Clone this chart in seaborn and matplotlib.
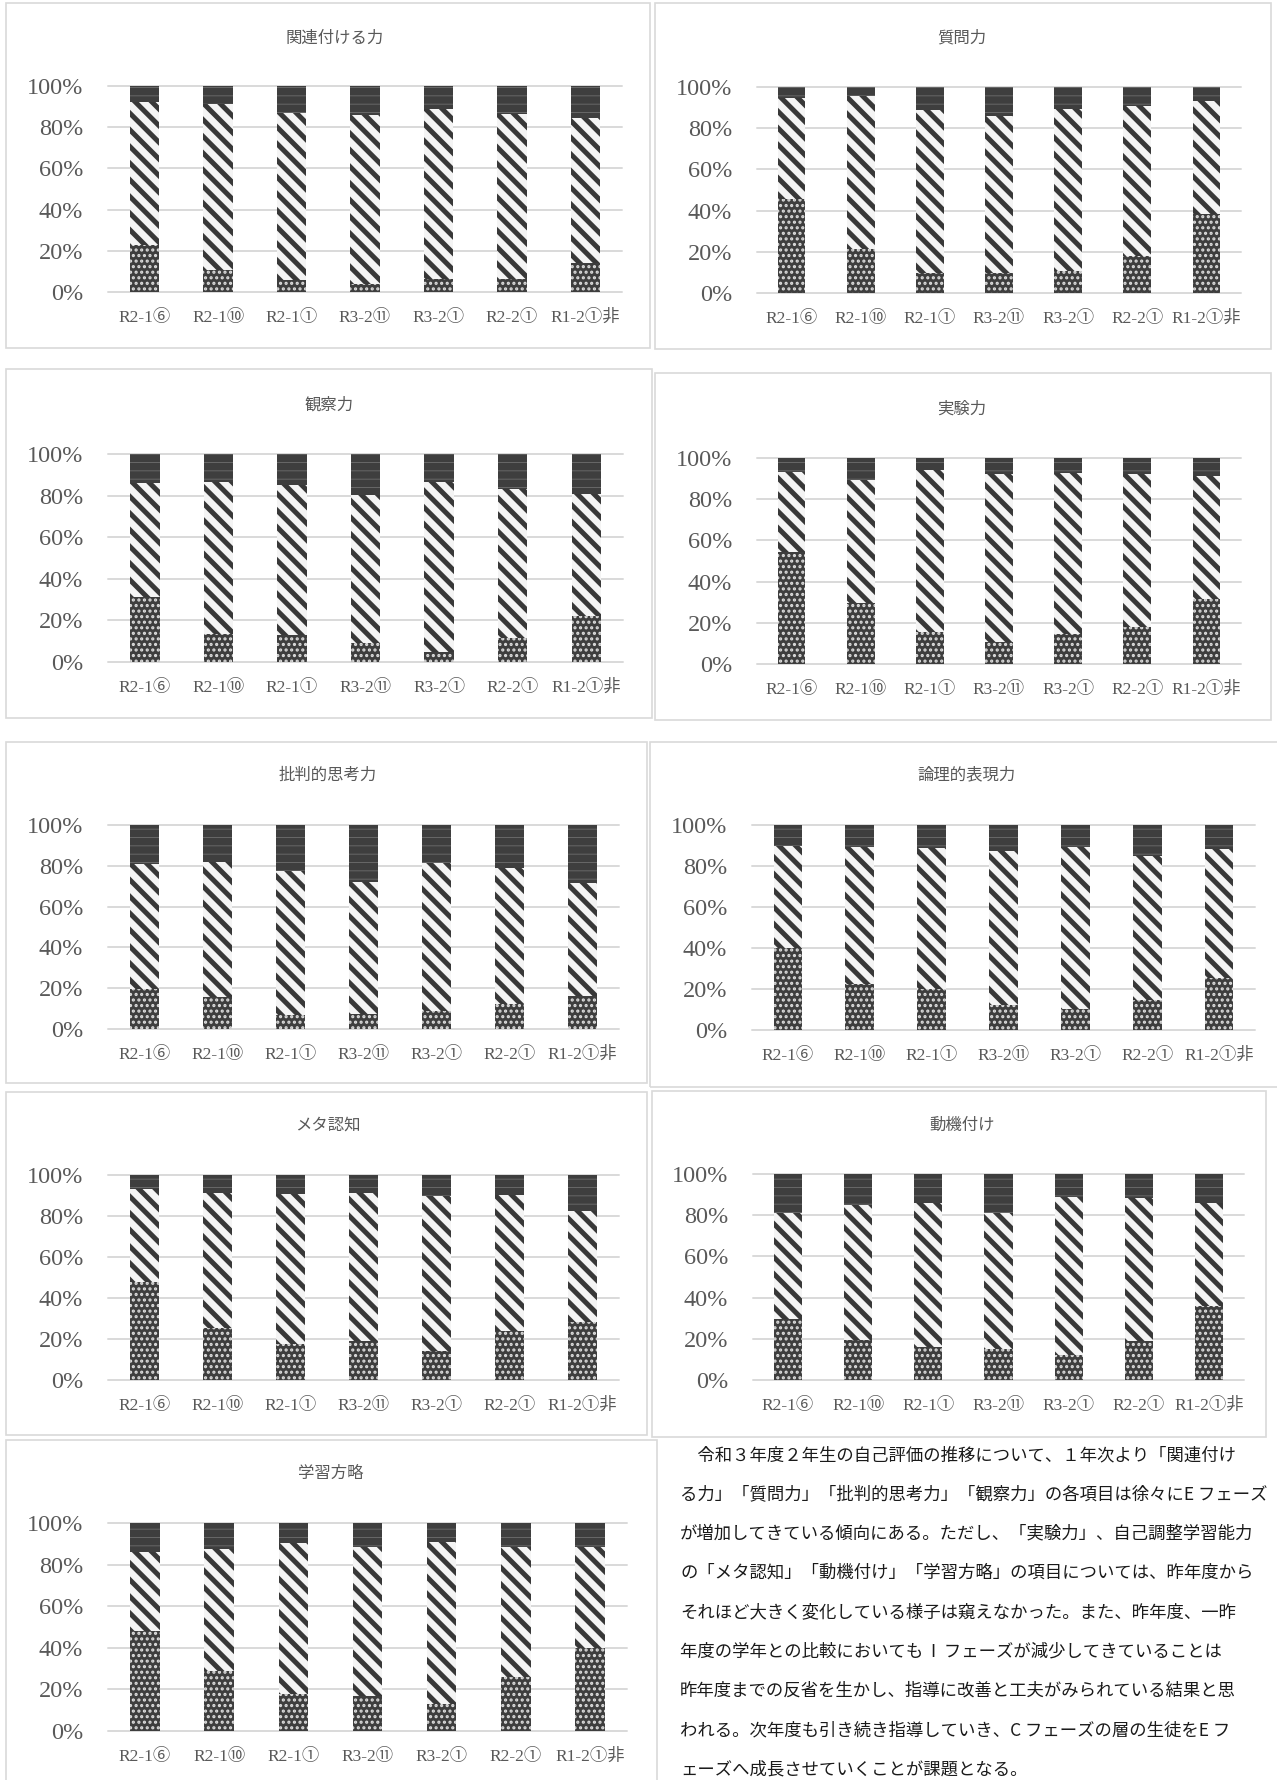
import numpy as np
import matplotlib
matplotlib.use("Agg")
import matplotlib.pyplot as plt
import seaborn as sns
from matplotlib.patches import Rectangle

# ---------------- data (percent of students, bottom / middle / top segment) -------------
categories = ["R2-1⑥", "R2-1⑩", "R2-1①", "R3-2⑪", "R3-2①", "R2-2①", "R1-2①非"]
yticks = [0, 20, 40, 60, 80, 100]

kanren_low = [23.0, 10.6, 6.0, 4.0, 6.5, 6.5, 14.3]
kanren_mid = [69.0, 80.8, 80.8, 81.7, 82.1, 79.8, 70.1]
kanren_top = [8.0, 8.6, 13.2, 14.3, 11.4, 13.7, 15.6]

shitsumon_low = [45.6, 21.6, 9.9, 9.9, 10.5, 18.2, 38.3]
shitsumon_mid = [49.0, 74.2, 78.7, 76.1, 78.9, 72.4, 54.7]
shitsumon_top = [5.4, 4.2, 11.4, 14.0, 10.6, 9.4, 7.0]

kansatsu_low = [31.4, 13.6, 13.1, 9.1, 5.0, 11.4, 22.0]
kansatsu_mid = [54.6, 72.9, 71.8, 71.3, 81.4, 71.8, 59.0]
kansatsu_top = [14.0, 13.5, 15.1, 19.6, 13.6, 16.8, 19.0]

jikken_low = [54.6, 29.5, 15.6, 10.7, 14.4, 18.2, 31.4]
jikken_mid = [38.6, 59.6, 78.4, 81.5, 78.1, 74.2, 59.7]
jikken_top = [6.8, 10.9, 6.0, 7.8, 7.5, 7.6, 8.9]

hihan_low = [19.6, 15.7, 6.7, 7.2, 8.8, 12.3, 16.4]
hihan_mid = [61.4, 66.1, 70.9, 64.8, 72.5, 66.6, 55.0]
hihan_top = [19.0, 18.2, 22.4, 28.0, 18.7, 21.1, 28.6]

ronri_low = [40.1, 22.6, 20.0, 12.0, 10.4, 14.4, 25.2]
ronri_mid = [49.7, 66.8, 69.0, 75.5, 78.7, 70.3, 62.9]
ronri_top = [10.2, 10.6, 11.0, 12.5, 10.9, 15.3, 11.9]

meta_low = [47.9, 25.6, 17.4, 19.0, 14.3, 23.9, 28.1]
meta_mid = [45.4, 65.6, 73.3, 72.2, 75.3, 66.4, 54.4]
meta_top = [6.7, 8.8, 9.3, 8.8, 10.4, 9.7, 17.5]

doki_low = [29.8, 19.6, 15.9, 15.2, 12.0, 19.1, 35.7]
doki_mid = [51.2, 65.5, 70.0, 66.0, 76.9, 69.2, 50.2]
doki_top = [19.0, 14.9, 14.1, 18.8, 11.1, 11.7, 14.1]

gakushu_low = [47.9, 28.7, 17.9, 16.7, 12.8, 26.0, 39.9]
gakushu_mid = [38.1, 59.0, 72.6, 71.8, 78.1, 62.5, 48.6]
gakushu_top = [14.0, 12.3, 9.5, 11.5, 9.1, 11.5, 11.5]

titles = ["関連付ける力", "質問力", "観察力", "実験力", "批判的思考力",
          "論理的表現力", "メタ認知", "動機付け", "学習方略"]

paragraph = [
    "　令和３年度２年生の自己評価の推移について、１年次より「関連付け",
    "る力」「質問力」「批判的思考力」「観察力」の各項目は徐々にE フェーズ",
    "が増加してきている傾向にある。ただし、「実験力」、自己調整学習能力",
    "の「メタ認知」「動機付け」「学習方略」の項目については、昨年度から",
    "それほど大きく変化している様子は窺えなかった。また、昨年度、一昨",
    "年度の学年との比較においても  I  フェーズが減少してきていることは",
    "昨年度までの反省を生かし、指導に改善と工夫がみられている結果と思",
    "われる。次年度も引き続き指導していき、C フェーズの層の生徒をE フ",
    "ェーズへ成長させていくことが課題となる。",
]

# ---------------- layout (pixel positions) ----------------
W, H = 1277, 1780
# axes: left, right, top(100%), bottom(0%) ; box: left, top, right, bottom ; title x, y
layout = [
    ((108, 622, 86, 292), (6, 3, 650, 348), (335, 38)),
    ((757, 1241, 87, 293), (655, 3, 1271, 349), (962, 38)),
    ((108, 623, 454, 662), (6, 369, 652, 718), (329, 405)),
    ((757, 1241, 458, 664), (655, 373, 1271, 720), (962, 409)),
    ((108, 619, 825, 1029), (6, 742, 647, 1083), (328, 775)),
    ((752, 1255, 825, 1030), (650, 742, 1290, 1087), (966, 775)),
    ((108, 619, 1175, 1380), (6, 1092, 647, 1435), (328, 1125)),
    ((753, 1244, 1174, 1380), (652, 1091, 1266, 1437), (962, 1125)),
    ((108, 627, 1523, 1731), (6, 1440, 657, 1800), (331, 1473)),
]

panel_data = [
    (kanren_low, kanren_mid, kanren_top),
    (shitsumon_low, shitsumon_mid, shitsumon_top),
    (kansatsu_low, kansatsu_mid, kansatsu_top),
    (jikken_low, jikken_mid, jikken_top),
    (hihan_low, hihan_mid, hihan_top),
    (ronri_low, ronri_mid, ronri_top),
    (meta_low, meta_mid, meta_top),
    (doki_low, doki_mid, doki_top),
    (gakushu_low, gakushu_mid, gakushu_top),
]

sns.set_style("white")
plt.rcParams['font.family'] = ['Liberation Serif', 'Noto Sans CJK JP']
plt.rcParams['hatch.linewidth'] = 1.0

fig = plt.figure(figsize=(W / 100, H / 100), dpi=100)
fig.patch.set_facecolor("white")


def fx(px):
    return px / W


def fy(py):
    return 1 - py / H


def style_bars(container, hatch, hatch_color, hlw):
    for p in container.patches:
        p.set_hatch(hatch)
        p.set_edgecolor(hatch_color)
        p.set_linewidth(0)
        if hasattr(p, "set_hatch_linewidth"):
            p.set_hatch_linewidth(hlw)


GRID = "#d9d9d9"
TXT = "#595959"

for title, (low, mid, top), (ax_pos, box, tpos) in zip(titles, panel_data, layout):
    l, r, t, b = ax_pos
    ax = fig.add_axes([fx(l), fy(b), (r - l) / W, (b - t) / H])
    low = np.asarray(low)
    mid = np.asarray(mid)
    top = np.asarray(top)
    total = low + mid + top
    lowmid = low + mid

    sns.barplot(x=categories, y=total, order=categories, color="#3e3e3e",
                saturation=1, width=0.4, errorbar=None, ax=ax, zorder=2)
    style_bars(ax.containers[-1], "--", "#6e6e6e", 0.6)
    sns.barplot(x=categories, y=lowmid, order=categories, color="#f4f4f4",
                saturation=1, width=0.4, errorbar=None, ax=ax, zorder=3)
    style_bars(ax.containers[-1], "\\\\", "#383838", 3.6)
    sns.barplot(x=categories, y=low, order=categories, color="#3e3e3e",
                saturation=1, width=0.4, errorbar=None, ax=ax, zorder=4)
    style_bars(ax.containers[-1], "...", "#dcdcdc", 1.5)

    ax.set_xlim(-0.5, len(categories) - 0.5)
    ax.set_ylim(0, 100)
    for v in yticks:
        ax.axhline(v, color=GRID, lw=1.4, zorder=1, clip_on=False)
    ax.set_yticks(yticks)
    ax.set_yticklabels([f"{v}%" for v in yticks])
    ax.tick_params(axis="y", length=0, pad=18, labelsize=17.5, labelcolor=TXT)
    ax.tick_params(axis="x", length=0, pad=13, labelsize=12.5, labelcolor=TXT)
    ax.set_xlabel("")
    ax.set_ylabel("")
    for s in ax.spines.values():
        s.set_visible(False)
    ax.set_facecolor("none")

    fig.text(fx(tpos[0]), fy(tpos[1]), title, ha="center", va="center",
             fontsize=11.8, color=TXT, family=["Noto Sans CJK JP"])

    bl, bt, br, bb = box
    fig.add_artist(Rectangle((fx(bl), fy(bb)), (br - bl) / W, (bb - bt) / H,
                             transform=fig.transFigure, fill=False,
                             edgecolor=GRID, lw=1.2))

for i, line in enumerate(paragraph):
    fig.text(fx(680), fy(1455 + 39.3 * i), line, ha="left", va="center",
             fontsize=12.5, color="#1a1a1a", family=["Noto Sans CJK JP"])

fig.savefig("out.png", dpi=100)
